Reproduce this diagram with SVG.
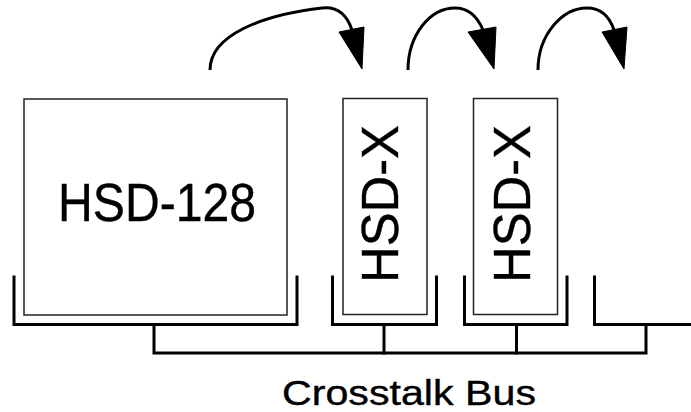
<svg xmlns="http://www.w3.org/2000/svg" width="691" height="412" viewBox="0 0 691 412">
<style>
.box{fill:#fff;stroke:#222;stroke-width:1.5}
.br{fill:none;stroke:#000;stroke-width:3;stroke-linecap:square}
.arc{fill:none;stroke:#000;stroke-width:3}
.head{fill:#000;stroke:#000;stroke-width:1}
.t{font-family:"Liberation Sans",Arial,sans-serif;fill:#000;stroke:#000;stroke-width:0.4}
</style>
<rect width="691" height="412" fill="#fff"/>
<g id="hsd128">
<rect class="box" x="24" y="99" width="263" height="216"/>
<text class="t" x="157" y="221" font-size="54" text-anchor="middle" textLength="198" lengthAdjust="spacingAndGlyphs">HSD-128</text>
</g>
<g id="hsdx1">
<rect class="box" x="343" y="98.5" width="84" height="216"/>
<text class="t" transform="translate(398,204) rotate(-90)" x="0" y="0" font-size="52" text-anchor="middle" textLength="158" lengthAdjust="spacingAndGlyphs">HSD-X</text>
</g>
<g id="hsdx2">
<rect class="box" x="473.5" y="98.5" width="84" height="216"/>
<text class="t" transform="translate(530,204) rotate(-90)" x="0" y="0" font-size="52" text-anchor="middle" textLength="158" lengthAdjust="spacingAndGlyphs">HSD-X</text>
</g>
<g id="connectors">
<path class="br" d="M14,277 V324.5 H297 V277"/>
<path class="br" d="M332.5,277 V324.5 H436.5 V277"/>
<path class="br" d="M464.5,277 V324.5 H567 V277"/>
<path class="br" d="M594.5,277 V324.5 H693"/>
<path class="br" d="M154,324.5 V353 H646 V324.5"/>
<path class="br" d="M384,324.5 V353"/>
<path class="br" d="M516.5,324.5 V353"/>
<path class="arc" d="M210,70 C210,35 262,15 322,8 C340,6 348,18 352,30"/>
<polygon class="head" points="339,32 364,27 362,69"/>
<path class="arc" d="M408,70 C408,35 430,8 455,8 C470,8 478,18 483,30"/>
<polygon class="head" points="468,32 496,27 494,69"/>
<path class="arc" d="M538,70 C538,35 562,8 587,8 C602,8 610,18 614,30"/>
<polygon class="head" points="602,32 627,27 624,69"/>
</g>
<text class="t" x="282" y="405" font-size="35" textLength="254" lengthAdjust="spacingAndGlyphs" stroke-width="1">Crosstalk Bus</text>
</svg>
